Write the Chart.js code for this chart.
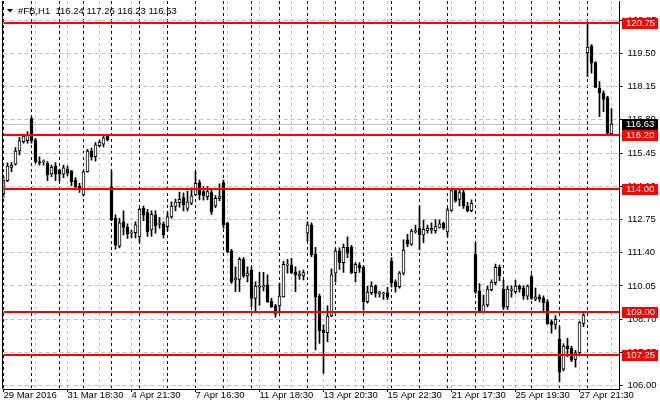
<!DOCTYPE html>
<html>
<head>
<meta charset="utf-8">
<script src="https://cdn.jsdelivr.net/npm/chart.js@4.4.0/dist/chart.umd.min.js"></script>
<style>
html,body{margin:0;padding:0;background:#fff;}
#wrap{width:660px;height:410px;position:relative;}
</style>
</head>
<body>
<div id="wrap"><canvas id="c" width="660" height="410"></canvas></div>
<script>
// ---------- data ----------
const symbol = '#FB,H1';
const year = '2016';
const days = ['29 Mar','30 Mar','31 Mar','1 Apr','4 Apr','5 Apr','6 Apr','7 Apr','8 Apr','11 Apr','12 Apr',
  '13 Apr','14 Apr','15 Apr','18 Apr','19 Apr','21 Apr','22 Apr','25 Apr','26 Apr','27 Apr','28 Apr'];
const dayBarCounts = [7,7,6,7,7,7,7,7,7,7,7,7,7,7,7,7,7,7,7,7,7,7];
const sessionHours = ['16:30','17:30','18:30','19:30','20:30','21:30','22:30'];

const opens = [
113.80,114.33,114.87,115.00,115.54,115.91,115.95,116.85,115.98,115.07,
115.08,115.03,114.60,114.92,114.76,114.59,114.80,114.72,114.35,114.10,
113.75,114.69,115.53,115.30,115.75,115.81,116.14,114.08,112.80,111.67,
112.66,112.43,112.20,112.22,112.05,113.20,113.03,112.33,112.93,112.55,
112.57,112.46,112.86,113.28,113.43,113.64,113.20,113.41,113.75,114.25,
113.88,113.68,113.84,113.30,113.60,114.25,112.60,111.47,110.30,110.32,
111.13,110.46,110.70,109.55,110.00,110.02,110.10,109.44,109.24,109.24,
109.61,110.90,110.90,110.63,110.46,110.46,112.20,112.53,111.35,109.64,
108.26,108.15,108.83,110.57,111.47,111.00,111.62,111.62,110.59,110.90,
110.81,109.41,109.78,110.05,109.75,109.73,109.78,111.07,110.22,110.02,
110.57,111.92,111.75,112.26,112.39,112.12,112.30,112.32,112.30,112.43,
112.60,112.25,113.12,113.95,113.57,113.84,113.30,113.11,111.35,109.85,
109.00,109.28,109.90,110.18,110.81,109.92,109.20,109.87,109.82,110.05,
109.96,109.64,110.43,109.51,109.61,109.55,109.41,108.60,108.49,107.88,
106.67,107.62,107.52,107.07,107.34,108.53,119.53,119.80,119.12,118.08,
117.88,117.70,116.24];
const highs = [
114.49,115.05,115.06,115.67,116.09,116.22,116.32,116.92,116.05,115.30,
115.17,115.10,114.96,115.06,114.80,114.96,114.92,114.75,114.45,114.22,
114.75,115.60,115.65,115.87,115.98,116.17,116.21,114.72,112.94,112.80,
113.10,112.57,112.32,112.66,113.20,113.30,113.16,113.10,113.10,112.84,
112.66,113.06,113.47,113.58,113.86,113.83,113.90,114.04,114.70,114.35,
114.09,114.09,113.95,113.72,114.20,114.35,112.65,111.54,110.83,111.20,
111.20,110.83,110.83,110.22,110.60,110.60,110.50,109.55,109.30,110.17,
111.05,111.13,111.17,110.83,110.67,110.70,112.66,112.62,111.62,109.72,
108.47,109.24,110.75,111.57,111.60,111.75,112.05,111.70,111.00,111.00,
110.88,110.05,110.22,110.10,109.83,109.80,110.00,111.20,110.30,110.64,
111.92,112.15,112.35,112.52,113.30,112.73,112.52,112.62,112.75,112.73,
112.65,113.20,114.03,114.00,114.00,114.00,113.45,113.55,111.81,110.15,
109.68,110.05,110.30,110.94,110.90,110.29,110.05,110.06,110.29,110.10,
110.06,110.10,110.50,109.96,109.70,109.65,109.50,108.67,108.85,108.40,
107.70,107.92,107.60,107.44,108.60,109.00,120.74,119.86,119.16,118.35,
117.98,117.75,117.26];
const lows = [
113.65,114.29,114.69,114.96,115.37,115.85,115.85,115.85,115.03,114.96,
114.96,114.33,114.49,114.33,114.30,114.45,114.52,114.12,113.95,113.85,
113.70,114.67,115.16,115.12,115.70,115.70,115.94,112.70,111.55,111.60,
112.12,111.98,112.00,112.00,111.80,112.70,112.06,112.06,112.20,112.40,
112.00,112.30,112.80,113.10,113.25,113.10,113.10,113.35,113.72,113.55,
113.54,113.55,112.96,113.23,113.50,112.40,111.40,110.15,109.82,109.82,
110.40,110.22,109.21,109.00,109.26,109.85,109.38,109.18,108.78,109.05,
109.60,110.57,110.55,109.82,110.32,110.30,111.87,111.24,107.45,107.72,
106.50,107.79,108.80,110.20,110.72,110.60,111.20,110.55,110.22,110.60,
109.07,109.35,109.70,109.60,109.60,109.50,109.50,110.00,109.80,109.96,
110.50,111.65,111.70,112.20,111.51,111.81,112.20,112.20,112.20,112.40,
112.35,112.05,113.08,113.45,113.30,113.20,113.06,113.06,109.75,108.98,
109.00,109.20,109.85,110.10,110.27,109.10,109.10,109.60,109.75,109.80,
109.50,109.50,109.50,109.45,109.40,109.02,108.50,108.13,108.30,106.15,
106.60,107.18,106.98,106.75,107.30,108.40,118.55,118.69,118.10,116.93,
117.13,116.23,116.23];
const closes = [
114.35,114.92,114.96,115.53,115.95,116.14,116.19,115.95,115.10,115.05,
115.10,114.56,114.87,114.59,114.59,114.85,114.63,114.29,114.08,114.02,
114.69,115.53,115.30,115.78,115.89,116.07,115.98,112.73,111.71,112.62,
112.43,112.16,112.22,112.53,113.16,112.93,112.25,112.96,112.49,112.57,
112.12,112.86,113.30,113.46,113.57,113.34,113.47,113.71,114.22,113.75,
113.71,113.88,113.07,113.61,113.68,112.53,111.44,110.22,110.38,111.13,
110.46,110.57,109.55,110.05,110.06,110.07,109.41,109.20,108.91,109.64,
110.93,110.92,110.59,110.50,110.54,110.59,112.53,111.31,109.61,108.23,
108.15,108.83,110.50,111.47,111.00,111.62,111.38,110.59,110.93,110.77,
109.41,109.80,110.05,109.75,109.77,109.75,109.59,110.18,110.02,110.57,
111.51,111.75,112.28,112.30,112.12,112.35,112.39,112.39,112.46,112.57,
112.40,113.14,113.93,113.51,113.84,113.30,113.11,113.41,109.82,109.05,
109.28,109.92,110.21,110.81,110.46,109.18,109.92,109.92,110.05,109.92,
109.64,110.05,109.55,109.61,109.51,109.37,108.51,108.49,108.70,106.55,
107.61,107.50,107.04,107.34,108.56,108.87,119.75,119.10,118.12,117.90,
117.63,116.25,116.63];

const levels = [120.75, 116.20, 114.00, 109.00, 107.25];
const yTicks = [106.00,107.35,108.70,110.05,111.40,112.75,114.10,115.45,116.80,118.15,119.50,120.85];
const yMin = 105.866, yMax = 121.625;
const labelEvery = 16, gridEvery = 8, rightPadBars = 2;

// ---------- build categories ----------
const labels = [];
const dayStarts = new Set();
days.forEach((d, k) => {
  dayStarts.add(labels.length);
  for (let h = 0; h < dayBarCounts[k]; h++) labels.push(d + ' ' + sessionHours[h]);
});
const nBars = labels.length;
for (let k = 0; k < rightPadBars; k++) labels.push('');

const bodies = labels.map((_, i) => i < nBars ? [opens[i], closes[i]] : null);
const wicks = labels.map((_, i) => i < nBars ? [lows[i], highs[i]] : null);
const bodyFill = labels.map((_, i) => i < nBars && closes[i] >= opens[i] ? '#ffffff' : '#000000');

const FONT = {family: "'Liberation Sans', Arial, sans-serif", size: 9.5};
const fontStr = "9.5px 'Liberation Sans', Arial, sans-serif";

const overlay = {
  id: 'overlay',
  beforeDatasetsDraw(chart) {
    const {ctx, chartArea: a, scales: {y}} = chart;
    const py = Math.round(y.getPixelForValue(closes[nBars - 1])) + 0.5;
    ctx.save();
    ctx.strokeStyle = '#c0c0c0';
    ctx.lineWidth = 1;
    ctx.beginPath(); ctx.moveTo(a.left, py); ctx.lineTo(a.right, py); ctx.stroke();
    ctx.restore();
  },
  afterDatasetsDraw(chart) {
    const {ctx, chartArea: a, scales: {y}} = chart;
    ctx.save();
    ctx.strokeStyle = '#ff0000';
    ctx.lineWidth = 2;
    levels.forEach(v => {
      const py = Math.round(y.getPixelForValue(v));
      ctx.beginPath(); ctx.moveTo(a.left, py); ctx.lineTo(a.right, py); ctx.stroke();
    });
    ctx.restore();
  },
  afterDraw(chart) {
    const {ctx, chartArea: a, scales: {y}} = chart;
    ctx.save();
    // left frame
    ctx.strokeStyle = '#000'; ctx.lineWidth = 1;
    ctx.beginPath(); ctx.moveTo(2.5, a.top); ctx.lineTo(2.5, a.bottom); ctx.stroke();
    // price boxes
    ctx.font = fontStr;
    ctx.textBaseline = 'middle';
    ctx.textAlign = 'left';
    const box = (v, bg) => {
      const py = Math.round(y.getPixelForValue(v));
      ctx.fillStyle = bg;
      ctx.fillRect(622, py - 5, 36, 11);
      ctx.fillStyle = '#fff';
      ctx.fillText(v.toFixed(2), 626, py + 0.5);
    };
    box(closes[nBars - 1], '#000');
    levels.forEach(v => box(v, '#ff0000'));
    // header
    ctx.fillStyle = '#000';
    ctx.beginPath(); ctx.moveTo(7, 9); ctx.lineTo(13, 9); ctx.lineTo(10, 12.5); ctx.closePath(); ctx.fill();
    const L = nBars - 1;
    ctx.fillText(symbol + '  ' + opens[L].toFixed(2) + ' ' + highs[L].toFixed(2) + ' ' +
      lows[L].toFixed(2) + ' ' + closes[L].toFixed(2), 18, 11);
    ctx.restore();
  }
};

new Chart(document.getElementById('c'), {
  type: 'bar',
  data: {
    labels,
    datasets: [
      {label: 'body', data: bodies, grouped: false, barThickness: 3, backgroundColor: bodyFill,
       borderColor: '#000', borderWidth: 1, borderSkipped: false, minBarLength: 1, order: 0},
      {label: 'wick', data: wicks, grouped: false, barThickness: 1, backgroundColor: '#000',
       borderWidth: 0, order: 1}
    ]
  },
  options: {
    responsive: false, animation: false, devicePixelRatio: 1,
    layout: {padding: {left: 3.5, top: 1, right: 0, bottom: 0}},
    plugins: {legend: {display: false}, tooltip: {enabled: false}},
    scales: {
      x: {
        type: 'category', offset: false,
        grid: {
          offset: false, lineWidth: 1, drawTicks: true, tickLength: 3,
          color: c => dayStarts.has(c.index) ? '#000000' :
            (c.index % gridEvery === 0 && c.index < nBars ? '#c0c0c0' : 'rgba(0,0,0,0)'),
          tickColor: c => (c.index % labelEvery === 0 && c.index < nBars) ? '#000000' : 'rgba(0,0,0,0)'
        },
        border: {color: '#000', width: 1, dash: [3, 3]},
        ticks: {
          autoSkip: false, maxRotation: 0, minRotation: 0, align: 'start', padding: -2,
          font: FONT, color: '#000',
          callback: (v, i) => (i % labelEvery === 0 && i < nBars) ? (i === 0 ? days[0] + ' ' + year : labels[i]) : ''
        },
        afterFit: s => { s.height = 21; s.paddingLeft = 0; s.paddingRight = 0; }
      },
      y: {
        position: 'right', min: yMin, max: yMax,
        afterBuildTicks: s => { s.ticks = yTicks.map(v => ({value: v})); },
        grid: {color: '#c0c0c0', lineWidth: 1, tickLength: 3, tickColor: '#000'},
        border: {color: '#000', width: 1, dash: [4, 3]},
        ticks: {padding: 5, font: FONT, color: '#000', callback: v => Number(v).toFixed(2)},
        afterFit: s => { s.width = 40.5; s.paddingTop = 0; s.paddingBottom = 0; }
      }
    }
  },
  plugins: [overlay]
});
</script>
</body>
</html>
